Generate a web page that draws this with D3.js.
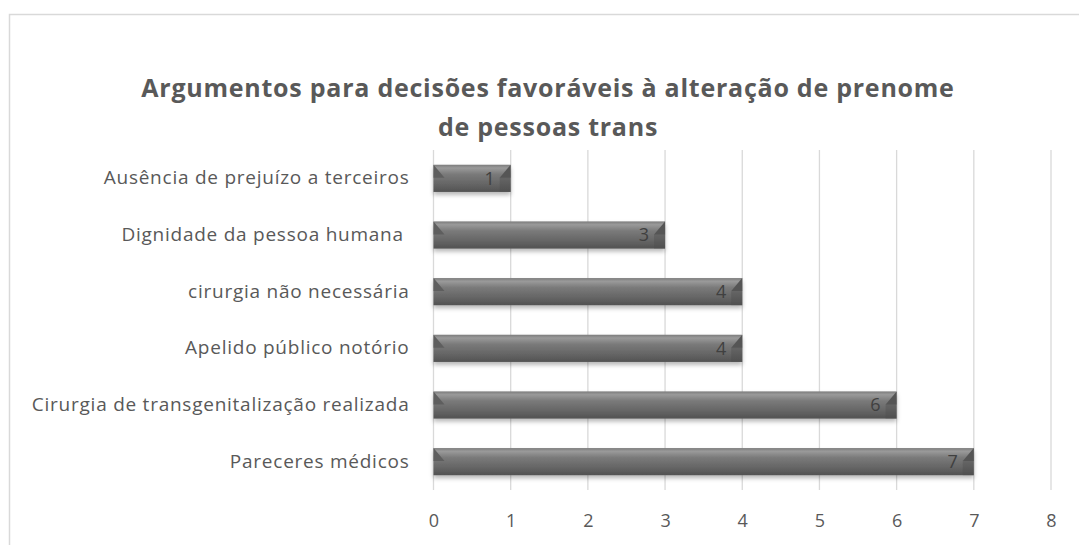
<!DOCTYPE html>
<html>
<head>
<meta charset="utf-8">
<script src="https://cdn.jsdelivr.net/npm/d3@7"></script>
<style>
  body { margin: 0; background: #fff; }
  svg { display: block; }
</style>
</head>
<body>
<div id="chart"></div>
<script>
// Chart data
const categories = [
    'Ausência de prejuízo a terceiros',
    'Dignidade da pessoa humana ',
    'cirurgia não necessária',
    'Apelido público notório',
    'Cirurgia de transgenitalização realizada',
    'Pareceres médicos'
];
const values = [1, 3, 4, 4, 6, 7];
const xTicks = [0, 1, 2, 3, 4, 5, 6, 7, 8];
const titleLines = [
    'Argumentos para decisões favoráveis à alteração de prenome',
    'de pessoas trans'
];

const width = 1079;
const height = 545;
const font = 'Open Sans, sans-serif';
const textColor = '#595959';

const svg = d3.select('#chart')
    .append('svg')
    .attr('width', width)
    .attr('height', height);

// Gradients / filters
const defs = svg.append('defs');
const grad = defs.append('linearGradient')
    .attr('id', 'barGrad')
    .attr('x1', 0).attr('y1', 0).attr('x2', 0).attr('y2', 1);
grad.append('stop').attr('offset', '0%').attr('stop-color', '#7c7c7c');
grad.append('stop').attr('offset', '12%').attr('stop-color', '#9a9a9a');
grad.append('stop').attr('offset', '35%').attr('stop-color', '#7a7a7a');
grad.append('stop').attr('offset', '70%').attr('stop-color', '#666');
grad.append('stop').attr('offset', '100%').attr('stop-color', '#525252');

const shadow = defs.append('filter')
    .attr('id', 'shadow')
    .attr('x', '-5%').attr('y', '-30%').attr('width', '110%').attr('height', '180%');
shadow.append('feDropShadow')
    .attr('dx', 0).attr('dy', 3).attr('stdDeviation', 2)
    .attr('flood-color', '#000').attr('flood-opacity', 0.28);

// Chart border
svg.append('rect')
    .attr('x', 9.5).attr('y', 14.5)
    .attr('width', 1100).attr('height', 600)
    .attr('fill', '#fff')
    .attr('stroke', '#d9d9d9')
    .attr('stroke-width', 1.5);

// Title
svg.append('g')
    .selectAll('text')
    .data(titleLines)
    .join('text')
    .attr('x', 548)
    .attr('y', (d, i) => 97 + i * 39)
    .attr('text-anchor', 'middle')
    .attr('font-family', font)
    .attr('font-weight', 700)
    .attr('font-size', '25px')
    .attr('letter-spacing', '0.75px')
    .attr('fill', textColor)
    .text(d => d);

// Scales
const x = d3.scaleLinear().domain([0, 8]).range([433.5, 1051]);
const y = d3.scaleBand().domain(categories).range([150, 490]).paddingInner(0.52).paddingOuter(0.26);

// Gridlines
svg.append('g')
    .selectAll('line')
    .data(xTicks)
    .join('line')
    .attr('x1', d => x(d)).attr('x2', d => x(d))
    .attr('y1', 150).attr('y2', 490)
    .attr('stroke', '#d9d9d9')
    .attr('stroke-width', 1.3);

// X axis labels
const xAxis = svg.append('g')
    .attr('transform', 'translate(0,490)')
    .call(d3.axisBottom(x).tickValues(xTicks).tickSize(0).tickPadding(24).tickFormat(d3.format('d')));
xAxis.select('.domain').remove();
xAxis.selectAll('text')
    .attr('font-family', font)
    .attr('font-size', '18px')
    .attr('fill', textColor);

// Y axis labels
const yAxis = svg.append('g')
    .attr('transform', 'translate(433.5,0)')
    .call(d3.axisLeft(y).tickSize(0).tickPadding(24));
yAxis.select('.domain').remove();
yAxis.selectAll('text')
    .attr('font-family', font)
    .attr('font-size', '19px')
    .attr('letter-spacing', '0.75px')
    .attr('fill', textColor)
    .attr('xml:space', 'preserve');

// Bars
const data = categories.map((c, i) => ({ cat: c, val: values[i] }));
const bars = svg.append('g')
    .selectAll('g')
    .data(data)
    .join('g');

bars.append('rect')
    .attr('x', x(0))
    .attr('y', d => y(d.cat))
    .attr('width', d => x(d.val) - x(0))
    .attr('height', y.bandwidth())
    .attr('fill', 'url(#barGrad)')
    .attr('filter', 'url(#shadow)');

// Bevel edges
const bev = 11;
const bevY = 13;
bars.append('polygon')
    .attr('points', d => {
        const x0 = x(0), y0 = y(d.cat);
        return [[x0, y0], [x0 + bev, y0 + bevY], [x0, y0 + bevY]].join(' ');
    })
    .attr('fill', '#5e5e5e');

bars.append('polygon')
    .attr('points', d => {
        const x1 = x(d.val), y0 = y(d.cat);
        return [[x1, y0], [x1 - bev, y0 + bevY], [x1, y0 + bevY]].join(' ');
    })
    .attr('fill', '#555');

bars.append('rect')
    .attr('x', d => x(d.val) - bev)
    .attr('y', d => y(d.cat) + bevY)
    .attr('width', bev)
    .attr('height', y.bandwidth() - bevY)
    .attr('fill', '#4a4a4a')
    .attr('opacity', 0.35);

// Value labels
bars.append('text')
    .attr('x', d => x(d.val) - 16)
    .attr('y', d => y(d.cat) + y.bandwidth() / 2)
    .attr('dy', '0.36em')
    .attr('text-anchor', 'end')
    .attr('font-family', font)
    .attr('font-size', '18px')
    .attr('fill', '#404040')
    .text(d => d.val);
</script>
</body>
</html>
